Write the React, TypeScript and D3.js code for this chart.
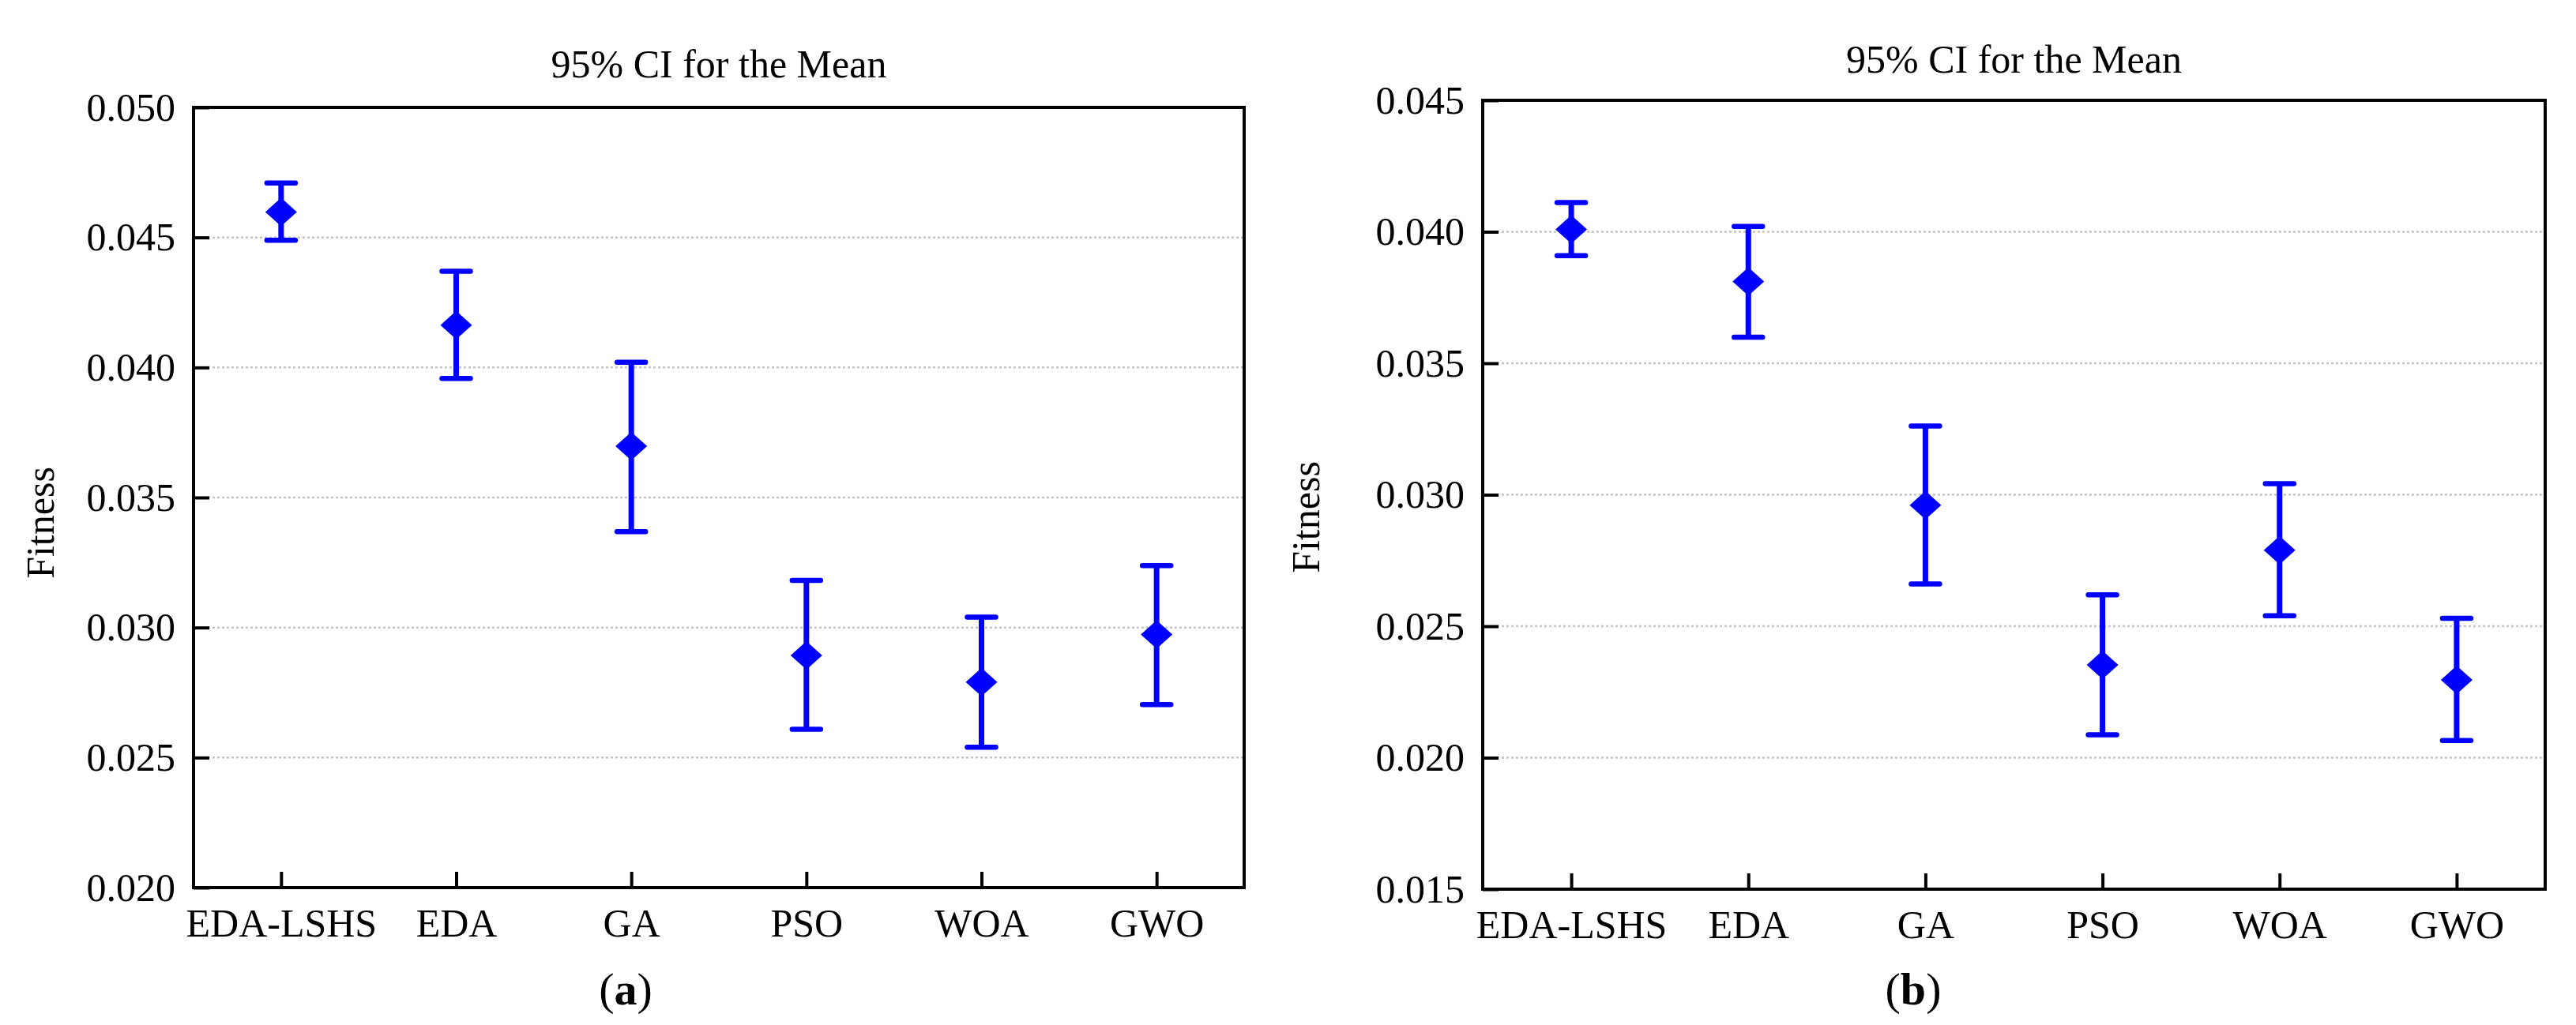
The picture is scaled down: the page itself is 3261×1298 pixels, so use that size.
import React, { useRef, useEffect } from "react";
import * as d3 from "d3";

const methods = ["EDA-LSHS", "EDA", "GA", "PSO", "WOA", "GWO"];

// panel (a)
const meanA = [0.04598, 0.04163, 0.03697, 0.02893, 0.0279, 0.02973];
const lowerA = [0.04489, 0.03958, 0.03369, 0.02609, 0.0254, 0.02704];
const upperA = [0.04709, 0.0437, 0.0402, 0.03181, 0.0304, 0.03238];
const ticksA = [0.02, 0.025, 0.03, 0.035, 0.04, 0.045, 0.05];

// panel (b)
const meanB = [0.04009, 0.03811, 0.0296, 0.02353, 0.02789, 0.02296];
const lowerB = [0.03909, 0.03599, 0.02661, 0.02087, 0.0254, 0.02065];
const upperB = [0.04111, 0.0402, 0.03261, 0.02619, 0.03042, 0.0253];
const ticksB = [0.015, 0.02, 0.025, 0.03, 0.035, 0.04, 0.045];

const titleText = "95% CI for the Mean";
const yLabel = "Fitness";

interface Box {
  left: number;
  right: number;
  top: number;
  bottom: number;
}

interface PanelProps {
  mean: number[];
  lower: number[];
  upper: number[];
  ticks: number[];
  box: Box;
  titleY: number;
  labelX: number;
  labelY: number;
  tag: string;
  tagX: number;
}

const FONT = "'Liberation Serif', 'Times New Roman', serif";
const BLUE = "#0000ff";

const Panel: React.FC<PanelProps> = ({
  mean,
  lower,
  upper,
  ticks,
  box,
  titleY,
  labelX,
  labelY,
  tag,
  tagX,
}) => {
  const gRef = useRef<SVGGElement | null>(null);

  useEffect(() => {
    if (!gRef.current) return;
    const g = d3.select(gRef.current);
    g.selectAll("*").remove();

    const w = box.right - box.left;
    const h = box.bottom - box.top;

    const x = d3.scalePoint<string>().domain(methods).range([0, w]).padding(0.5);
    const y = d3
      .scaleLinear()
      .domain([ticks[0], ticks[ticks.length - 1]])
      .range([h, 0]);

    const plot = g.append("g").attr("transform", `translate(${box.left},${box.top})`);

    // dotted grid
    plot
      .selectAll(".grid")
      .data(ticks.slice(1, -1))
      .join("line")
      .attr("class", "grid")
      .attr("x1", 0)
      .attr("x2", w)
      .attr("y1", (d) => y(d))
      .attr("y2", (d) => y(d))
      .attr("stroke", "#c4c4c4")
      .attr("stroke-width", 2.5)
      .attr("stroke-dasharray", "3,3");

    // y axis
    const yAxis = plot
      .append("g")
      .call(
        d3
          .axisLeft(y)
          .tickValues(ticks)
          .tickSize(-20)
          .tickPadding(23)
          .tickFormat(d3.format(".3f"))
      );
    yAxis.select(".domain").remove();
    yAxis.selectAll(".tick line").attr("stroke", "#000").attr("stroke-width", 4);
    yAxis
      .selectAll(".tick text")
      .attr("font-family", FONT)
      .attr("font-size", 50)
      .attr("fill", "#000");

    // x axis
    const xAxis = plot
      .append("g")
      .attr("transform", `translate(0,${h})`)
      .call(d3.axisBottom(x).tickSize(-20).tickPadding(26));
    xAxis.select(".domain").remove();
    xAxis.selectAll(".tick line").attr("stroke", "#000").attr("stroke-width", 4);
    xAxis
      .selectAll(".tick text")
      .attr("font-family", FONT)
      .attr("font-size", 50)
      .attr("fill", "#000");

    // frame
    plot
      .append("rect")
      .attr("x", 0)
      .attr("y", 0)
      .attr("width", w)
      .attr("height", h)
      .attr("fill", "none")
      .attr("stroke", "#000")
      .attr("stroke-width", 4);

    const idx = d3.range(methods.length);

    // whiskers
    plot
      .selectAll(".whisker")
      .data(idx)
      .join("line")
      .attr("class", "whisker")
      .attr("x1", (i) => x(methods[i])!)
      .attr("x2", (i) => x(methods[i])!)
      .attr("y1", (i) => y(upper[i]))
      .attr("y2", (i) => y(lower[i]))
      .attr("stroke", BLUE)
      .attr("stroke-width", 7);

    const capW = 21;
    [upper, lower].forEach((vals) => {
      plot
        .append("g")
        .selectAll("line")
        .data(idx)
        .join("line")
        .attr("x1", (i) => x(methods[i])! - capW + 3)
        .attr("x2", (i) => x(methods[i])! + capW - 3)
        .attr("y1", (i) => y(vals[i]))
        .attr("y2", (i) => y(vals[i]))
        .attr("stroke", BLUE)
        .attr("stroke-width", 6.5)
        .attr("stroke-linecap", "round");
    });

    // mean diamonds
    const dw = 20;
    const dh = 18;
    plot
      .selectAll(".mean")
      .data(idx)
      .join("path")
      .attr("class", "mean")
      .attr("d", (i) => {
        const cx = x(methods[i])!;
        const cy = y(mean[i]);
        const p = d3.path();
        p.moveTo(cx, cy - dh);
        p.lineTo(cx + dw, cy);
        p.lineTo(cx, cy + dh);
        p.lineTo(cx - dw, cy);
        p.closePath();
        return p.toString();
      })
      .attr("fill", BLUE);

    // title
    g.append("text")
      .attr("x", box.left + w / 2)
      .attr("y", titleY)
      .attr("text-anchor", "middle")
      .attr("font-family", FONT)
      .attr("font-size", 50)
      .text(titleText);

    // y label
    g.append("text")
      .attr("transform", `translate(${labelX},${labelY}) rotate(-90)`)
      .attr("text-anchor", "middle")
      .attr("font-family", FONT)
      .attr("font-size", 50)
      .text(yLabel);

    // sub-figure tag
    const t = g
      .append("text")
      .attr("x", tagX)
      .attr("y", 1272)
      .attr("text-anchor", "middle")
      .attr("font-family", FONT)
      .attr("font-size", 58);
    t.append("tspan").text("(");
    t.append("tspan").attr("font-weight", "bold").text(tag);
    t.append("tspan").text(")");
  }, [mean, lower, upper, ticks, box, titleY, labelX, labelY, tag, tagX]);

  return <g ref={gRef} />;
};

const App: React.FC = () => {
  return (
    <svg
      width={3261}
      height={1298}
      style={{ position: "absolute", left: 0, top: 0, background: "#fff" }}
    >
      <rect width={3261} height={1298} fill="#fff" />
      <Panel
        mean={meanA}
        lower={lowerA}
        upper={upperA}
        ticks={ticksA}
        box={{ left: 245, right: 1575, top: 136, bottom: 1124 }}
        titleY={98}
        labelX={68}
        labelY={662}
        tag="a"
        tagX={792}
      />
      <Panel
        mean={meanB}
        lower={lowerB}
        upper={upperB}
        ticks={ticksB}
        box={{ left: 1877, right: 3222, top: 127, bottom: 1126 }}
        titleY={92}
        labelX={1670}
        labelY={655}
        tag="b"
        tagX={2422}
      />
    </svg>
  );
};

export default App;
